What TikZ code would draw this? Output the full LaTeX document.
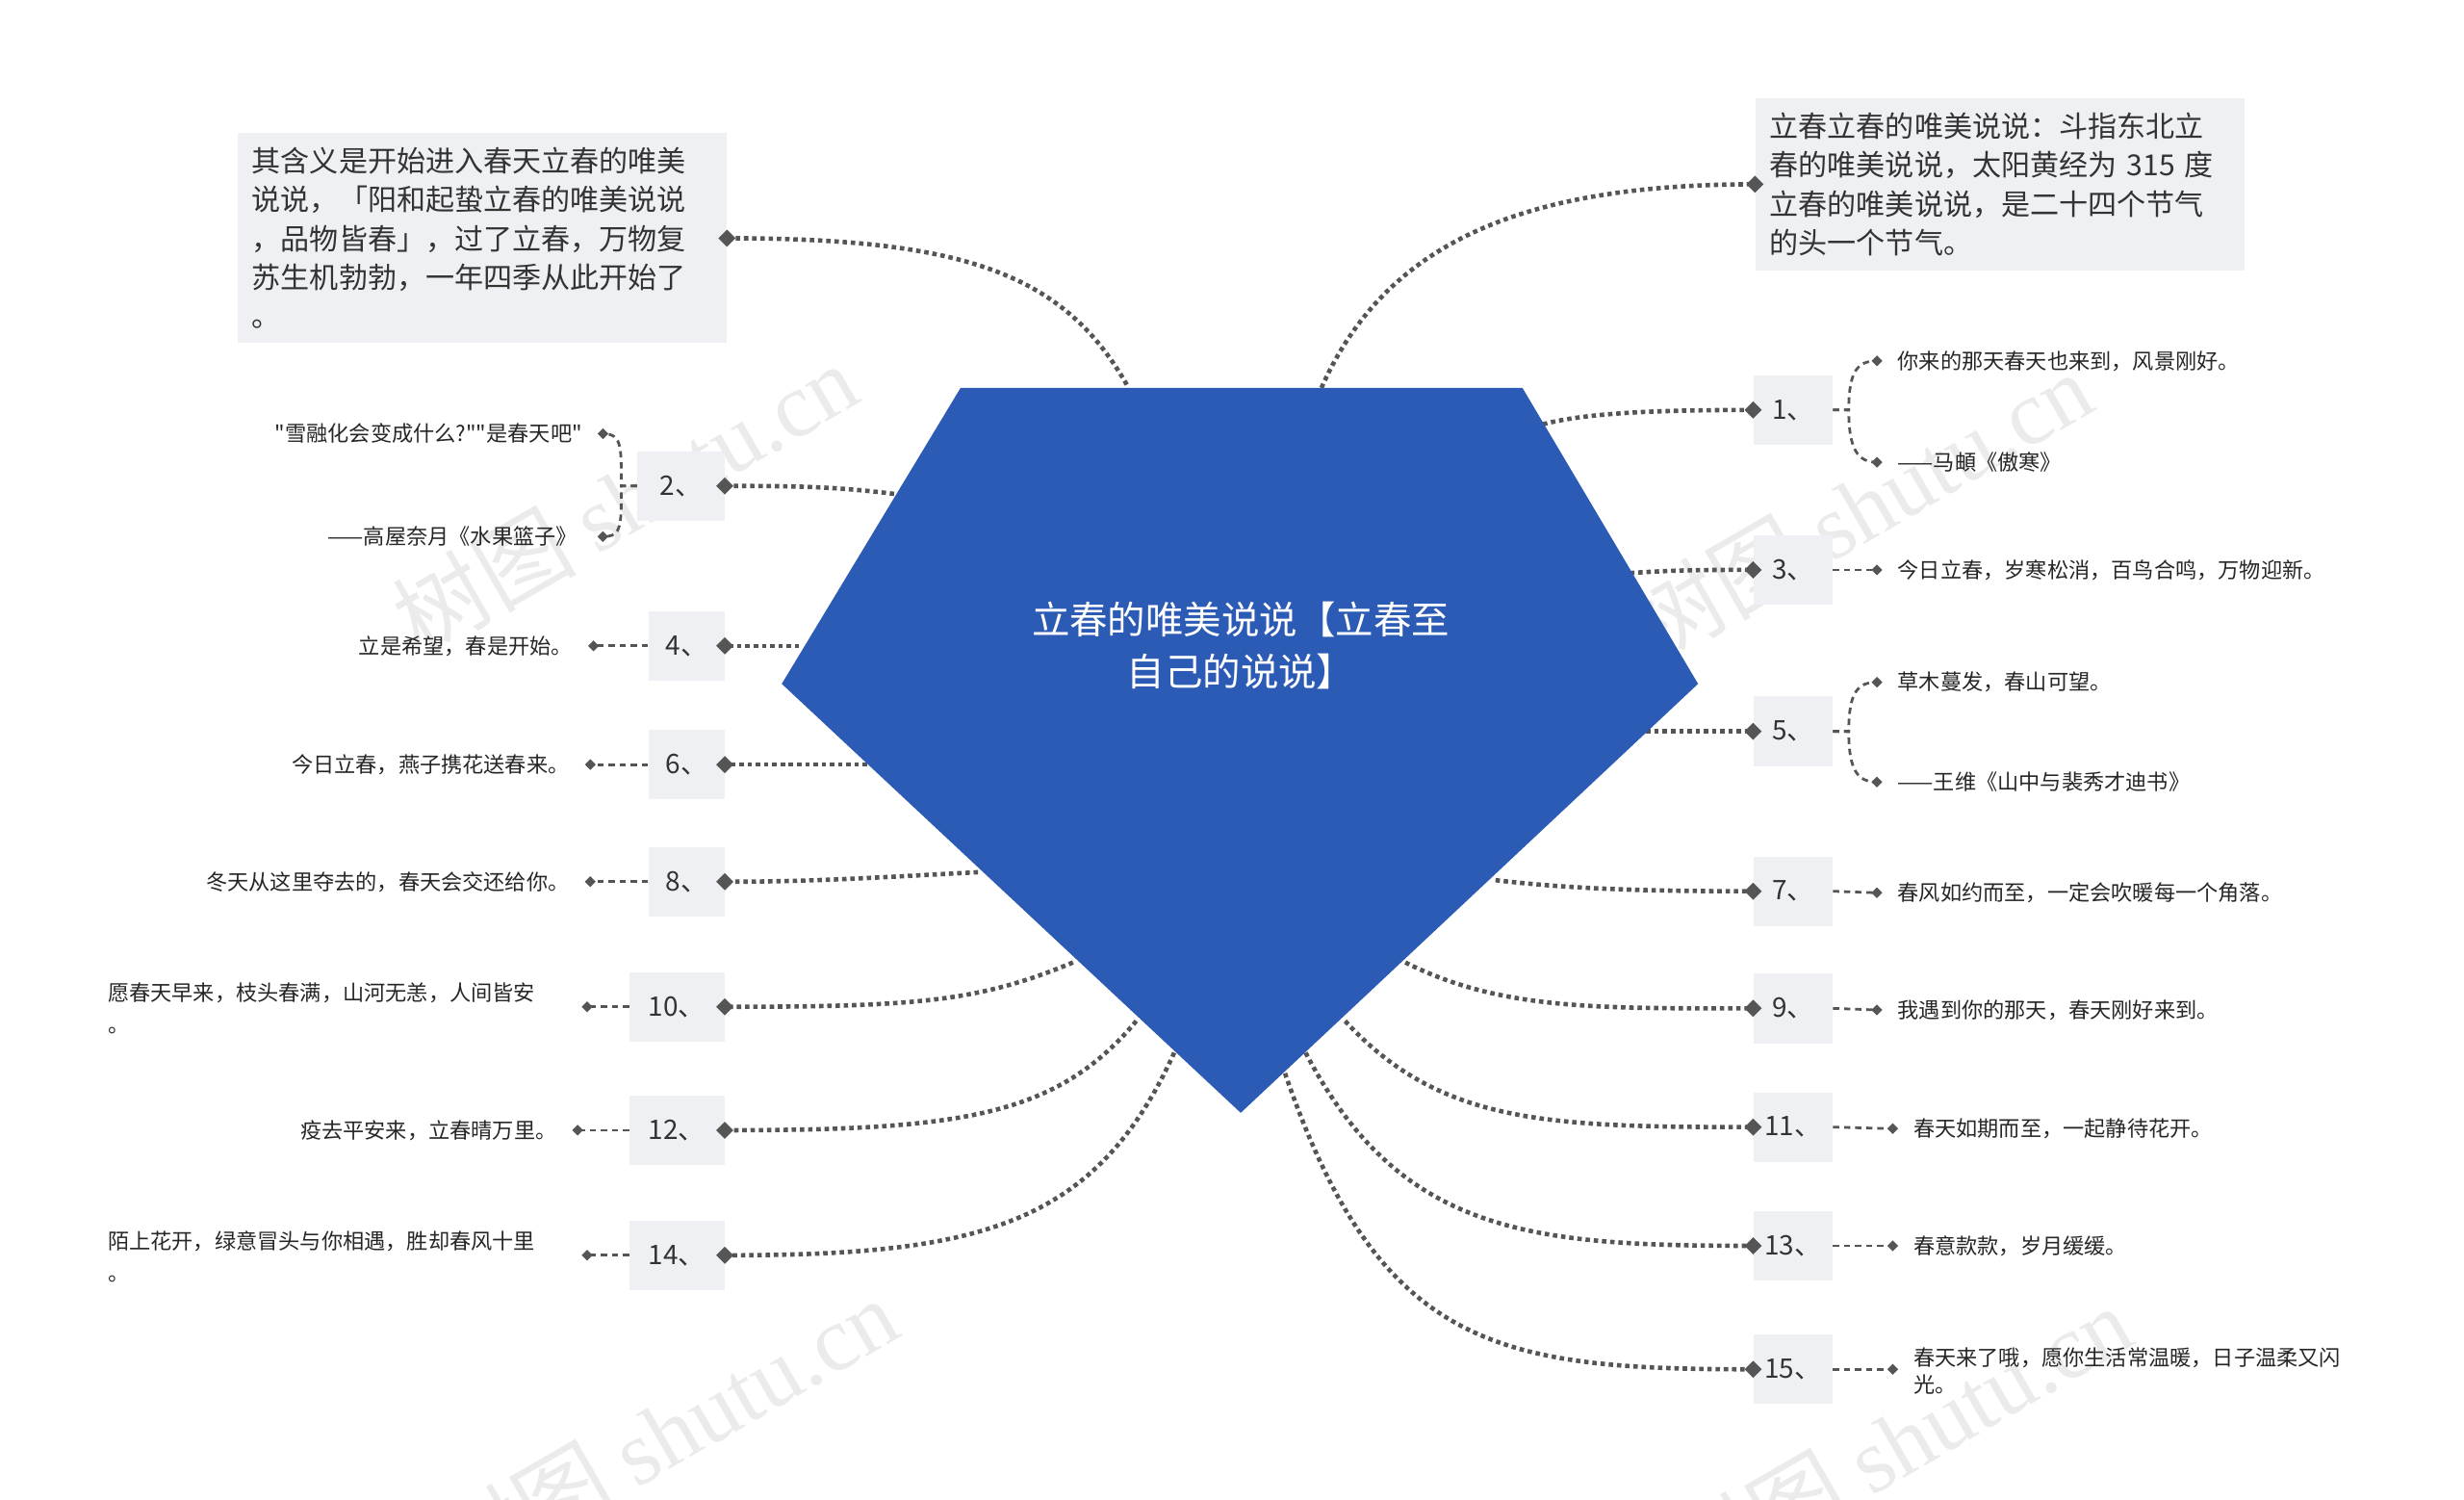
\documentclass[tikz,border=0pt]{standalone}
\usepackage{fontspec}
\setmainfont{Noto Sans CJK SC}
\newfontfamily\qfont{Noto Sans CJK SC}
\newfontfamily\wmfont{Liberation Serif}
\XeTeXlinebreaklocale "zh"
\XeTeXlinebreakskip=0pt plus 1pt
\usetikzlibrary{shapes.geometric}
\definecolor{pent}{HTML}{2C5BB6}
\definecolor{boxg}{HTML}{EEF0F3}
\definecolor{lnk}{HTML}{555555}
\tikzset{
  mainlink/.style={draw=lnk,line width=2.8pt,dash pattern=on 2.8pt off 2.4pt},
  sublink/.style={draw=lnk,line width=1.7pt,dash pattern=on 4pt off 3pt},
  numbox/.style={fill=boxg,minimum height=44pt,minimum width=50pt,inner sep=0pt,font=\fontsize{17}{20}\selectfont,text=black!80},
  leafR/.style={anchor=west,inner sep=0pt,font=\fontsize{13.5}{18}\selectfont,text=black!85},
  leafL/.style={anchor=east,inner sep=0pt,font=\fontsize{13.5}{18}\selectfont,text=black!85},
  dia/.style={diamond,fill=lnk,inner sep=0pt,minimum size=11pt},
  sdia/.style={diamond,fill=lnk,inner sep=0pt,minimum size=7pt},
  bigbox/.style={fill=boxg,anchor=north west,text width=291pt,inner sep=9pt,align=left,font=\fontsize{18.3}{24.5}\selectfont,text=black!80},
  wm/.style={text=gray,opacity=0.16,rotate=30,font=\fontsize{58}{58}\selectfont}
}
\begin{document}
\begin{tikzpicture}[x=1pt,y=-1pt]
\useasboundingbox (0,0) rectangle (1557,947);
% watermarks
\node[wm] (w1) at (395,315) {树图 {\wmfont shutu.cn}};
\node[wm] (w2) at (1175,320) {树图 {\wmfont shutu.cn}};
\node[wm] (w3) at (420,905) {树图 {\wmfont shutu.cn}};
\node[wm] (w4) at (1200,910) {树图 {\wmfont shutu.cn}};
% start points
\coordinate (sTR) at (835,245); \coordinate (sTL) at (712,243);
\coordinate (s1) at (975,268); \coordinate (s3) at (1030,362); \coordinate (s5) at (1035,462);
\coordinate (s7) at (945,556); \coordinate (s9) at (888,608); \coordinate (s11) at (850,645);
\coordinate (s13) at (825,665); \coordinate (s15) at (812,678);
\coordinate (s2) at (565,312); \coordinate (s4) at (505,408); \coordinate (s6) at (548,483);
\coordinate (s8) at (618,551); \coordinate (s10) at (678,608); \coordinate (s12) at (718,645);
\coordinate (s14) at (742,665);
% boxes
\node[bigbox] (tr) at (1109,62) {立春立春的唯美说说：斗指东北立\\春的唯美说说，太阳黄经为 315 度\\立春的唯美说说，是二十四个节气\\的头一个节气。};
\node[bigbox] (tl) at (150,84) {其含义是开始进入春天立春的唯美\\说说，「阳和起蛰立春的唯美说说\\，品物皆春」，过了立春，万物复\\苏生机勃勃，一年四季从此开始了\\。};
\foreach \n/\y in {1/259,3/360,5/462,7/563,9/637,11/712,13/787,15/865}
  \node[numbox] (b\n) at (1133,\y) {\n、};
\foreach \n/\y/\w in {2/307/55,4/408/48,6/483/48,8/557/48,10/636/60,12/714/60,14/793/60}
  \node[numbox,minimum width=\w pt,anchor=east] (b\n) at (458,\y) {\n、};
% main links
\path[mainlink] (sTR) .. controls +(40,-90) and +(-150,0) .. (tr.west);
\path[mainlink] (sTL) .. controls +(-40,-70) and +(150,0) .. (tl.east);
\path[mainlink] (s1) .. controls +(30,-8) and +(-50,0) .. (b1.west);
\path[mainlink] (s3) .. controls +(30,-2) and +(-30,0) .. (b3.west);
\path[mainlink] (s5) -- (b5.west);
\path[mainlink] (s7) .. controls +(50,6) and +(-60,0) .. (b7.west);
\path[mainlink] (s9) .. controls +(60,30) and +(-100,0) .. (b9.west);
\path[mainlink] (s11) .. controls +(60,65) and +(-130,0) .. (b11.west);
\path[mainlink] (s13) .. controls +(60,115) and +(-140,0) .. (b13.west);
\path[mainlink] (s15) .. controls +(60,175) and +(-160,0) .. (b15.west);
\path[mainlink] (s2) .. controls +(-40,-5) and +(40,0) .. (b2.east);
\path[mainlink] (s4) -- (b4.east);
\path[mainlink] (s6) -- (b6.east);
\path[mainlink] (s8) .. controls +(-60,3) and +(60,0) .. (b8.east);
\path[mainlink] (s10) .. controls +(-60,25) and +(120,0) .. (b10.east);
\path[mainlink] (s12) .. controls +(-50,60) and +(150,0) .. (b12.east);
\path[mainlink] (s14) .. controls +(-50,110) and +(160,0) .. (b14.east);
% pentagon
\fill[pent] (607,245) -- (962,245) -- (1073,432) -- (784,703) -- (494,432) -- cycle;
\node[align=center,text=white,font=\fontsize{24}{33}\selectfont] (title) at (784,408) {立春的唯美说说【立春至\\自己的说说】};
% diamonds at main ends
\foreach \b in {tr,b1,b3,b5,b7,b9,b11,b13,b15} \node[dia] at (\b.west) {};
\foreach \b in {tl,b2,b4,b6,b8,b10,b12,b14} \node[dia] at (\b.east) {};
% right leaves
\coordinate (d1a) at (1186,228); \coordinate (d1b) at (1186,292);
\node[leafR] (l1a) at (1199,228) {你来的那天春天也来到，风景刚好。};
\node[leafR] (l1b) at (1199,292) {——马頔《傲寒》};
\path[sublink] (b1.east) -- ++(10,0) .. controls +(0,-25) and +(-12,0) .. (d1a);
\path[sublink] (b1.east) -- ++(10,0) .. controls +(0,25) and +(-12,0) .. (d1b);
\coordinate (d5a) at (1186,431); \coordinate (d5b) at (1186,494);
\node[leafR] (l5a) at (1199,431) {草木蔓发，春山可望。};
\node[leafR] (l5b) at (1199,494) {——王维《山中与裴秀才迪书》};
\path[sublink] (b5.east) -- ++(10,0) .. controls +(0,-25) and +(-12,0) .. (d5a);
\path[sublink] (b5.east) -- ++(10,0) .. controls +(0,25) and +(-12,0) .. (d5b);
\foreach \c in {d1a,d1b,d5a,d5b} \node[sdia] at (\c) {};
\foreach \n/\y/\x/\t in {3/360/1199/今日立春，岁寒松消，百鸟合鸣，万物迎新。,7/564/1199/春风如约而至，一定会吹暖每一个角落。,9/638/1199/我遇到你的那天，春天刚好来到。,11/713/1209/春天如期而至，一起静待花开。,13/787/1209/春意款款，岁月缓缓。}{
  \coordinate (d\n) at (\x-13,\y);
  \node[leafR] (l\n) at (\x,\y) {\t};
  \path[sublink] (b\n.east) -- (d\n);
  \node[sdia] at (d\n) {};
}
\coordinate (d15) at (1196,865);
\node[leafR,text width=292pt,align=left,font=\fontsize{13.5}{17}\selectfont] (l15) at (1209,866) {春天来了哦，愿你生活常温暖，日子温柔又闪\\光。};
\path[sublink] (b15.east) -- (d15);
\node[sdia] at (d15) {};
% left leaves
\coordinate (d2a) at (381,274); \coordinate (d2b) at (381,339);
\node[leafL] (l2a) at (368,274) {\qfont "雪融化会变成什么?""是春天吧"};
\node[leafL] (l2b) at (365,339) {——高屋奈月《水果篮子》};
\path[sublink] (b2.west) -- ++(-10,0) .. controls +(0,-25) and +(12,0) .. (d2a);
\path[sublink] (b2.west) -- ++(-10,0) .. controls +(0,25) and +(12,0) .. (d2b);
\node[sdia] at (d2a) {}; \node[sdia] at (d2b) {};
\foreach \n/\y/\x/\t in {4/408/362/立是希望，春是开始。,6/483/360/今日立春，燕子携花送春来。,8/557/360/冬天从这里夺去的，春天会交还给你。,12/714/352/疫去平安来，立春晴万里。}{
  \coordinate (d\n) at (\x+13,\y);
  \node[leafL] (l\n) at (\x,\y) {\t};
  \path[sublink] (b\n.west) -- (d\n);
  \node[sdia] at (d\n) {};
}
\coordinate (d10) at (371,636);
\node[anchor=west,inner sep=0pt,text width=295pt,align=left,font=\fontsize{13.5}{20}\selectfont,text=black!85] (l10) at (68,637) {愿春天早来，枝头春满，山河无恙，人间皆安\\。};
\path[sublink] (b10.west) -- (d10);
\node[sdia] at (d10) {};
\coordinate (d14) at (371,793);
\node[anchor=west,inner sep=0pt,text width=295pt,align=left,font=\fontsize{13.5}{20}\selectfont,text=black!85] (l14) at (68,794) {陌上花开，绿意冒头与你相遇，胜却春风十里\\。};
\path[sublink] (b14.west) -- (d14);
\node[sdia] at (d14) {};
\end{tikzpicture}
\end{document}
